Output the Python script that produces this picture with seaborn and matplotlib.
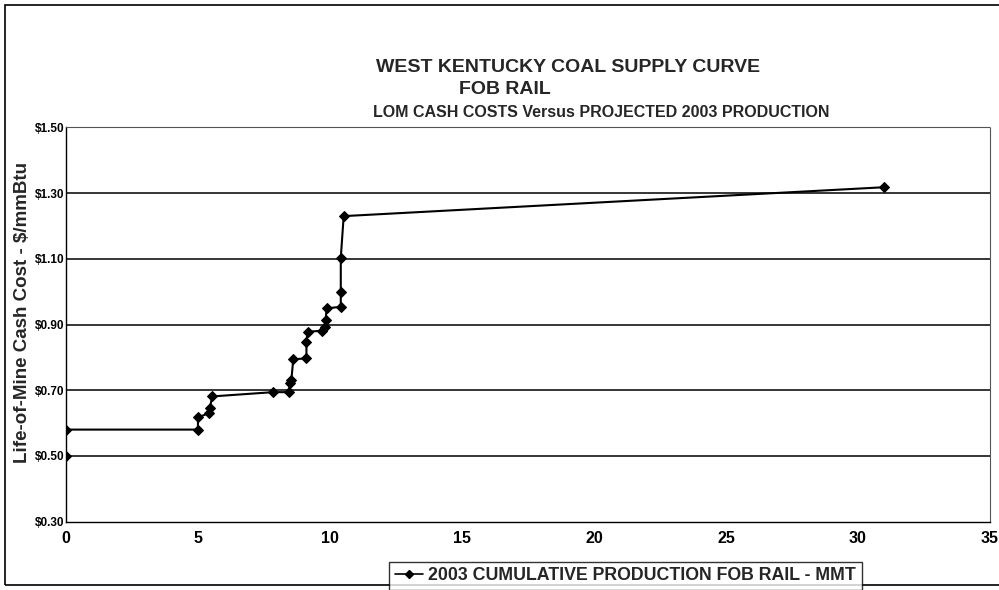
import matplotlib
matplotlib.use("Agg")
import matplotlib.pyplot as plt
import seaborn as sns
import pandas as pd
from matplotlib.patches import Rectangle
from matplotlib.lines import Line2D

# Cumulative 2003 production (million tons) vs life-of-mine cash cost ($/mmBtu)
production = [0.0, 0.0, 5.0, 5.0, 5.41, 5.45, 5.54, 7.84, 8.45, 8.48, 8.54, 8.61,
              9.11, 9.11, 9.15, 9.71, 9.81, 9.84, 9.87, 10.41, 10.41, 10.41, 10.52, 31.0]
cash_cost = [0.50, 0.58, 0.58, 0.617, 0.63, 0.645, 0.681, 0.694, 0.694, 0.723, 0.732, 0.794,
             0.797, 0.848, 0.878, 0.881, 0.893, 0.914, 0.949, 0.954, 1.000, 1.103, 1.230, 1.318]
series_name = "2003 CUMULATIVE PRODUCTION FOB RAIL - MMT"
x_ticks = [0, 5, 10, 15, 20, 25, 30, 35]
y_ticks = [0.30, 0.50, 0.70, 0.90, 1.10, 1.30, 1.50]

df = pd.DataFrame({"production": production, "cost": cash_cost})

sns.set_style("white")
plt.rcParams["font.family"] = ["Liberation Sans", "DejaVu Sans"]

fig = plt.figure(figsize=(9.99, 5.90), dpi=100)
ax = fig.add_axes([0.066, 0.116, 0.925, 0.668])

sns.lineplot(data=df, x="production", y="cost", estimator=None, sort=False,
             color="black", linewidth=1.5, marker="D", markersize=5.5,
             markeredgecolor="black", ax=ax, legend=False)

ax.set_xlim(0, 35)
ax.set_ylim(0.30, 1.50)
ax.set_xticks(x_ticks)
ax.set_xticklabels([str(t) for t in x_ticks], fontsize=11.5, fontweight="bold")
ax.set_yticks(y_ticks)
ax.set_yticklabels([f"${t:.2f}" for t in y_ticks], fontsize=8.5, fontweight="bold")
ax.tick_params(axis="x", direction="out", length=4, width=0.8, pad=3, colors="black")
ax.tick_params(axis="y", direction="out", length=3, width=0.8, pad=-2, colors="black")

# horizontal gridlines
for t in y_ticks[1:-1]:
    ax.axhline(t, color="black", linewidth=1.1, zorder=0)

ax.set_xlabel("")
ax.set_ylabel("")
fig.text(0.023, 0.47, "Life-of-Mine Cash Cost - $/mmBtu", rotation=90, ha="center",
         va="center", fontsize=13.5, fontweight="bold")

for side in ["left", "bottom"]:
    ax.spines[side].set_color("black")
    ax.spines[side].set_linewidth(1.0)
for side in ["top", "right"]:
    ax.spines[side].set_color("#555555")
    ax.spines[side].set_linewidth(0.8)
    ax.spines[side].set_linestyle((0, (1, 1)))

# titles
fig.text(0.569, 0.885, "WEST KENTUCKY COAL SUPPLY CURVE", ha="center", va="center",
         fontsize=14, fontweight="bold")
fig.text(0.505, 0.848, "FOB RAIL", ha="center", va="center",
         fontsize=14, fontweight="bold")
fig.text(0.602, 0.809, "LOM CASH COSTS Versus PROJECTED 2003 PRODUCTION", ha="center",
         va="center", fontsize=11.5, fontweight="bold")

# legend
handle = Line2D([0], [0], color="black", linewidth=1.2, marker="D", markersize=4)
leg = fig.legend([handle], [series_name], loc="center", bbox_to_anchor=(0.626, 0.024),
                 frameon=True, fancybox=False, handlelength=1.6,
                 handletextpad=0.3, borderpad=0.3, prop={"weight": "bold", "size": 12.8})
leg.get_frame().set_edgecolor("black")
leg.get_frame().set_linewidth(1.0)

# outer chart frame
frame = Rectangle((0.005, 0.008), 1.2, 0.984, transform=fig.transFigure, fill=False,
                  edgecolor="black", linewidth=1.2)
fig.patches.append(frame)

fig.savefig("out.png", dpi=100, facecolor="white")
